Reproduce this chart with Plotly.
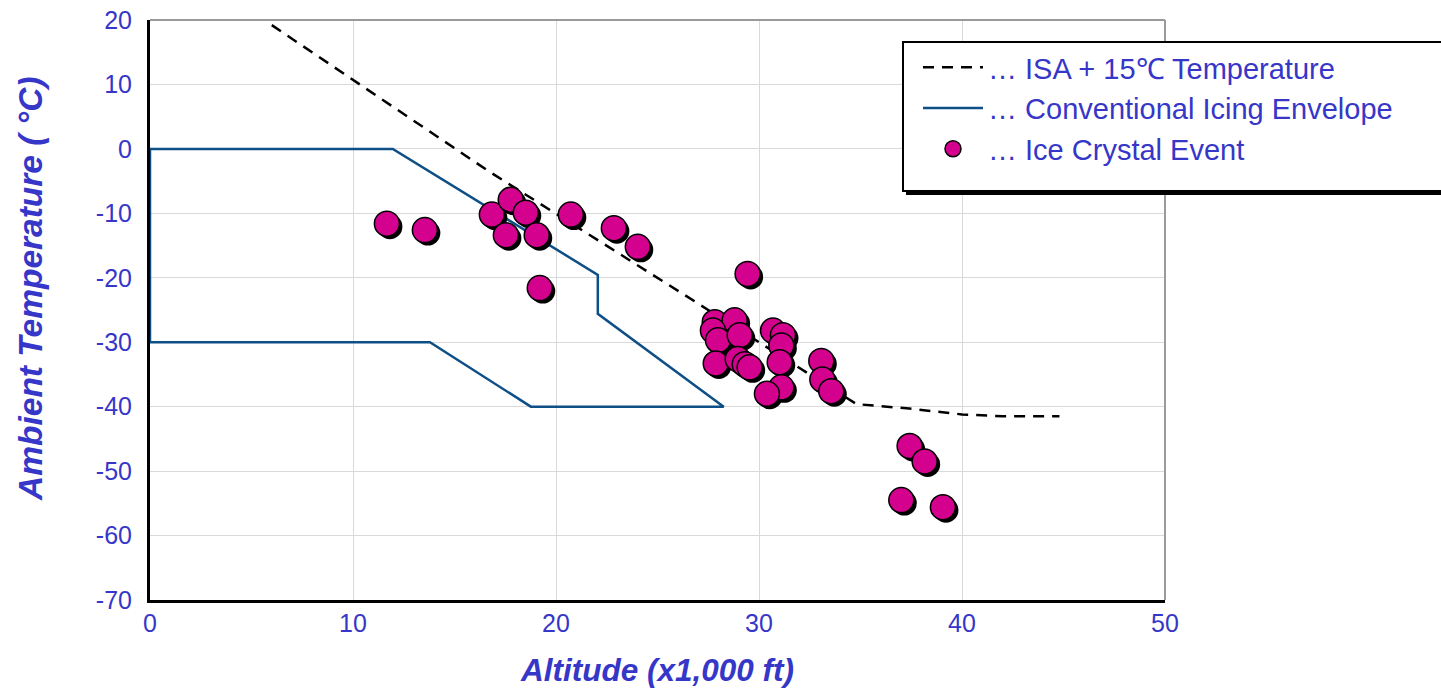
import plotly.graph_objects as go

# ---------------- data ----------------
isa_alt = [6.0, 16.7, 26.1, 34.8, 37.4, 40.0, 42.0, 44.8]
isa_temp = [19.2, -3.5, -22.2, -39.6, -40.3, -41.2, -41.5, -41.5]

env_alt = [0, 11.96, 22.06, 22.06, 28.26, 18.76, 13.79, 0, 0]
env_temp = [0, 0, -19.55, -25.6, -40.0, -40.0, -30.0, -30.0, 0]

ice_alt = [11.67, 13.54, 16.84, 17.53, 17.77, 18.51, 19.05, 19.20, 20.73, 22.85, 24.03, 29.44,
           27.82, 28.80, 27.73, 27.98, 29.05, 27.87, 28.95, 29.30, 29.54,
           30.69, 31.18, 31.10, 31.02, 31.10, 30.39,
           33.07, 33.12, 33.56,
           37.42, 38.16, 37.01, 39.06]
ice_temp = [-11.6, -12.6, -10.2, -13.4, -7.9, -9.9, -13.4, -21.6, -10.2, -12.3, -15.2, -19.4,
            -26.9, -26.6, -28.2, -29.7, -28.9, -33.3, -32.6, -33.4, -33.9,
            -28.2, -28.9, -30.5, -33.1, -37.0, -38.0,
            -32.9, -35.8, -37.6,
            -46.1, -48.5, -54.5, -55.6]

x_ticks = [0, 10, 20, 30, 40, 50]
x_ticktext = ["0", "10", "20", "30", "40", "50"]
y_ticks = [20, 10, 0, -10, -20, -30, -40, -50, -60, -70]
y_ticktext = ["20", "10", "0", "-10", "-20", "-30", "-40", "-50", "-60", "-70"]

label_isa = "… ISA + 15℃ Temperature"
label_env = "… Conventional Icing Envelope"
label_ice = "… Ice Crystal Event"
x_title = "Altitude (x1,000 ft)"
y_title = "Ambient Temperature ( °C)"

# ---------------- style ----------------
TXT = "#3636c8"
FONT = "Arial, Liberation Sans, sans-serif"
W, H = 1441, 691
ML, MR, MT, MB = 150, 276, 20, 91
PW = W - ML - MR
PH = H - MT - MB
XR = [0, 50]
YR = [-70, 20]
SH = 3  # shadow offset, px
dx = SH * (XR[1] - XR[0]) / PW
dy = SH * (YR[1] - YR[0]) / PH


def px_x(p):
    return (p - ML) / PW


def px_y(p):
    return (H - MB - p) / PH


fig = go.Figure()

fig.add_trace(go.Scatter(
    x=isa_alt, y=isa_temp, mode="lines", name=label_isa,
    line=dict(color="black", width=2.5, dash="11px,8px"),
    xaxis="x", yaxis="y"))
fig.add_trace(go.Scatter(
    x=env_alt, y=env_temp, mode="lines", name=label_env,
    line=dict(color="#0d4f86", width=2.5),
    xaxis="x", yaxis="y"))
# shadow of markers
fig.add_trace(go.Scatter(
    x=ice_alt, y=ice_temp, mode="markers", showlegend=False, hoverinfo="skip",
    marker=dict(size=25, color="black", line=dict(width=0)),
    xaxis="x2", yaxis="y2"))
fig.add_trace(go.Scatter(
    x=ice_alt, y=ice_temp, mode="markers", name=label_ice,
    marker=dict(size=25, color="#d4008e", line=dict(width=1.5, color="black")),
    xaxis="x3", yaxis="y3"))

axis_common = dict(showgrid=True, gridcolor="#d9d9d9", gridwidth=1, zeroline=False,
                   ticks="", automargin=False,
                   tickfont=dict(family=FONT, size=25, color=TXT))

fig.update_layout(
    width=W, height=H,
    margin=dict(l=ML, r=MR, t=MT, b=MB, pad=0, autoexpand=False),
    paper_bgcolor="white", plot_bgcolor="white",
    font=dict(family=FONT, color=TXT),
    xaxis=dict(range=XR, tickvals=x_ticks, ticktext=x_ticktext, showline=True,
               linecolor="black", linewidth=3,
               title=dict(text=x_title, standoff=23,
                          font=dict(family=FONT, size=31.5, color=TXT, weight="bold", style="italic")),
               ticklabelstandoff=-1, **axis_common),
    yaxis=dict(range=YR, tickvals=y_ticks, ticktext=y_ticktext, showline=True,
               linecolor="black", linewidth=3,
               ticklabelstandoff=10, **axis_common),
    xaxis2=dict(range=[XR[0] - dx, XR[1] - dx], overlaying="x", visible=False),
    yaxis2=dict(range=[YR[0] + dy, YR[1] + dy], overlaying="y", visible=False),
    xaxis3=dict(range=XR, overlaying="x", visible=False),
    yaxis3=dict(range=YR, overlaying="y", visible=False),
    legend=dict(x=px_x(918), y=px_y(42), xanchor="left", yanchor="top",
                bgcolor="rgba(0,0,0,0)", borderwidth=0, itemwidth=60,
                font=dict(family=FONT, size=29, color=TXT), tracegroupgap=0),
    showlegend=True,
)

# plot frame: grey top and right
fig.add_shape(type="line", xref="paper", yref="paper", x0=0, x1=1, y0=1, y1=1,
              line=dict(color="#9a9a9a", width=2), layer="above")
fig.add_shape(type="line", xref="paper", yref="paper", x0=1, x1=1, y0=0, y1=1,
              line=dict(color="#9a9a9a", width=2), layer="above")

# legend box with shadow
fig.add_shape(type="rect", xref="paper", yref="paper",
              x0=px_x(906), x1=px_x(1480), y0=px_y(195), y1=px_y(45),
              fillcolor="black", line=dict(width=0), layer="above")
fig.add_shape(type="rect", xref="paper", yref="paper",
              x0=px_x(903), x1=px_x(1470), y0=px_y(191), y1=px_y(42),
              fillcolor="white", line=dict(color="black", width=2), layer="above")

fig.add_annotation(text=y_title, xref="paper", yref="paper",
                   x=px_x(30), y=px_y(289), textangle=-90, showarrow=False,
                   xanchor="center", yanchor="middle",
                   font=dict(family=FONT, size=33.5, color=TXT, weight="bold", style="italic"))

fig.write_html("out.html")
